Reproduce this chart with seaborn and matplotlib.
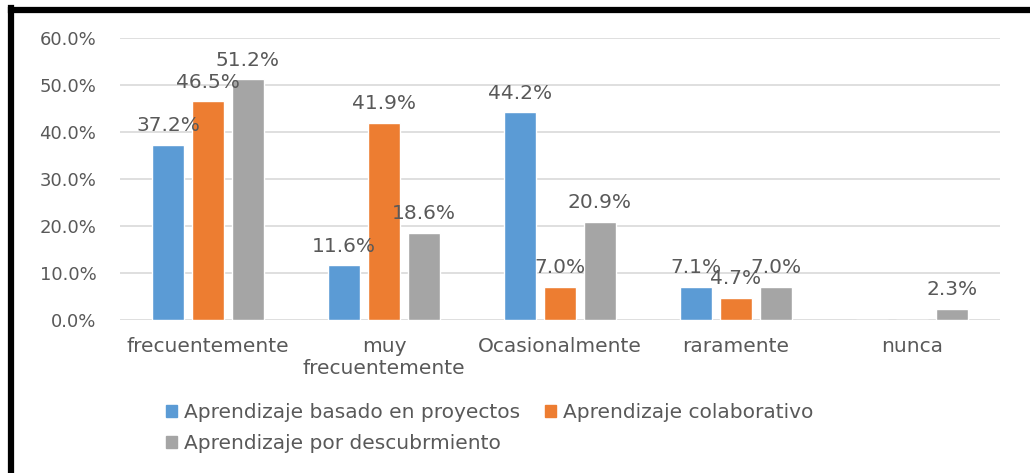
import numpy as np
import pandas as pd
import seaborn as sns
from matplotlib import pyplot as plt
from matplotlib.lines import Line2D

categories = ["frecuentemente", "muy\nfrecuentemente", "Ocasionalmente", "raramente", "nunca"]
series_names = ["Aprendizaje basado en proyectos", "Aprendizaje colaborativo",
                "Aprendizaje por descubrmiento"]
proyectos = [37.2, 11.6, 44.2, 7.1, 0.0]
colaborativo = [46.5, 41.9, 7.0, 4.7, 0.0]
descubrimiento = [51.2, 18.6, 20.9, 7.0, 2.3]
y_ticks = [0, 10, 20, 30, 40, 50, 60]
colors = ["#5B9BD5", "#ED7D31", "#A5A5A5"]

rows = []
for name, vals in zip(series_names, [proyectos, colaborativo, descubrimiento]):
    for cat, v in zip(categories, vals):
        rows.append({"cat": cat, "serie": name, "valor": v})
df = pd.DataFrame(rows)

sns.set_style("white")
plt.rcParams['font.family'] = ['DejaVu Sans']
text_color = "#595959"

fig = plt.figure(figsize=(10.3, 4.73), dpi=100)
ax = fig.add_axes([120 / 1030, 1 - 320 / 473, 880 / 1030, 282 / 473])

sns.barplot(data=df, x="cat", y="valor", hue="serie", palette=colors, saturation=1,
            width=0.68, gap=0.2, ax=ax, legend=False, errorbar=None)

ax.set_ylim(0, 60)
ax.set_xlim(-0.5, 4.5)
ax.set_yticks(y_ticks)
ax.set_yticklabels([f"{t:.1f}%" for t in y_ticks], color=text_color, fontsize=13)
ax.tick_params(axis="y", length=0, pad=17)
ax.tick_params(axis="x", length=0, pad=12, labelsize=14.5, labelcolor=text_color)
ax.set_xlabel("")
ax.set_ylabel("")
ax.yaxis.grid(True, color="#D9D9D9", linewidth=1.2)
ax.set_axisbelow(True)
for s in ax.spines.values():
    s.set_visible(False)

# data labels, zero values left blank
for container in ax.containers:
    labels = [f"{b.get_height():.1f}%" if b.get_height() > 0 else "" for b in container]
    ax.bar_label(container, labels=labels, padding=7, fontsize=14.5, color=text_color)

handles = [plt.Rectangle((0, 0), 1, 1, color=c) for c in colors]
order = [0, 2, 1]
leg = fig.legend([handles[i] for i in order], [series_names[i] for i in order],
                 ncol=2, loc="upper left", bbox_to_anchor=(148 / 1030, 1 - 385 / 473),
                 frameon=False, fontsize=14.5, handlelength=0.55, handleheight=0.55,
                 handletextpad=0.35, columnspacing=1.2, labelspacing=0.6,
                 labelcolor=text_color)

# black frame on the left and top
fig.add_artist(Line2D([10.5 / 1030, 10.5 / 1030], [0, 1 - 8 / 473], color="black",
                      linewidth=4.5, transform=fig.transFigure, solid_capstyle="projecting"))
fig.add_artist(Line2D([10.5 / 1030, 1], [1 - 10.5 / 473, 1 - 10.5 / 473], color="black",
                      linewidth=4.5, transform=fig.transFigure, solid_capstyle="projecting"))

fig.savefig("out.png", dpi=100, facecolor="white")
plt.close(fig)
